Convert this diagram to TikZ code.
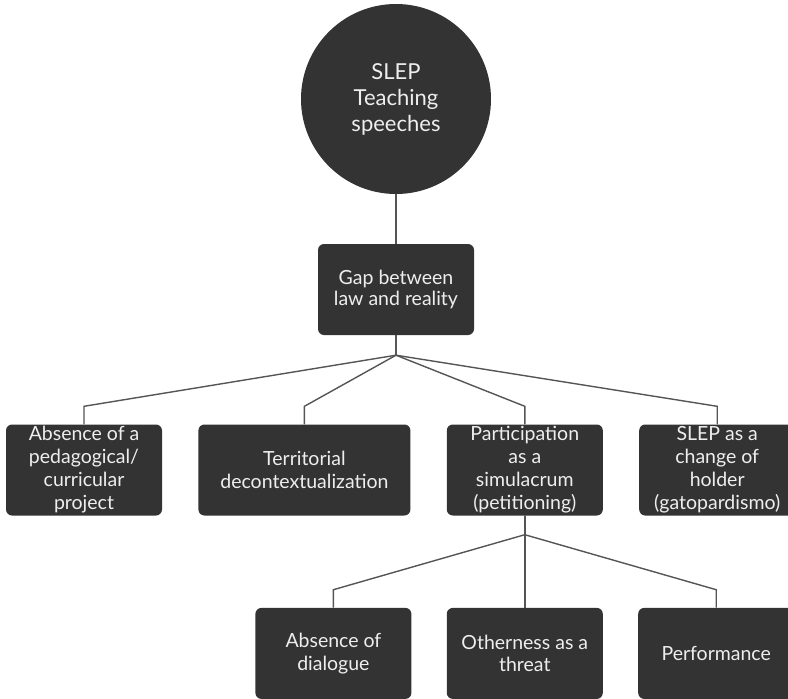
\documentclass[tikz,border=0pt]{standalone}
\usepackage{fontspec}
\setmainfont{Lato}
\usetikzlibrary{positioning}
\definecolor{boxgray}{HTML}{333333}
\definecolor{linegray}{HTML}{555555}
\definecolor{textwhite}{HTML}{EEEEEE}
\tikzset{
    %Define standard look
    thick,
    hub/.style={
      circle,
      fill=boxgray,
      text=textwhite,
      minimum size=190pt,
      align=center,
      font=\fontsize{22}{26}\selectfont},
    punkt/.style={
      rectangle,
      rounded corners=6pt,
      fill=boxgray,
      text=textwhite,
      minimum width=156pt,
      minimum height=91pt,
      inner sep=1pt,
      align=center,
      font=\fontsize{19.5}{22.5}\selectfont},
    tall/.style={
      font=\fontsize{19.5}{23}\selectfont},
    link/.style={
      draw=linegray,
      line width=1.4pt},
}
\begin{document}
\begin{tikzpicture}[x=1pt,y=-1pt,node distance=36pt]
    \useasboundingbox (0,0) rectangle (788,699);
    \node (hub) [hub] at (396,99)
          {SLEP\\Teaching\\speeches};
    \node (gap) [punkt,font=\fontsize{19.5}{21}\selectfont] at (396,289.5)
          {Gap between\\law and reality};
    \node (b1) [punkt,tall] at (84,470)
          {Absence of a\\pedagogical/\\curricular\\project};
    \node (b2) [punkt,tall,minimum width=212pt] [right=of b1]
          {Territorial\\decontextualization};
    \node (b3) [punkt,tall] [right=of b2]
          {Participation\\as a\\simulacrum\\(petitioning)};
    \node (b4) [punkt,tall] [right=of b3]
          {SLEP as a\\change of\\holder\\(gatopardismo)};
    \node (c2) [punkt] [below=92pt of b3]
          {Otherness as a\\threat};
    \node (c1) [punkt] [left=35pt of c2]
          {Absence of\\dialogue};
    \node (c3) [punkt] [right=35pt of c2]
          {Performance};
    % junctions
    \coordinate (jA) at ([yshift=-20pt]gap.south);
    \coordinate (jB) at ([yshift=-19pt]b3.south);
    \draw[link] (hub.south) -- (hub.south |- gap.north);
    \foreach \n in {b1,b2,b3,b4}
      \draw[link] (gap.south) -- (jA) -- ([yshift=18pt]\n.north) -- (\n.north);
    \foreach \n in {c1,c2,c3}
      \draw[link] (b3.south) -- (jB) -- ([yshift=18pt]\n.north) -- (\n.north);
\end{tikzpicture}
\end{document}
